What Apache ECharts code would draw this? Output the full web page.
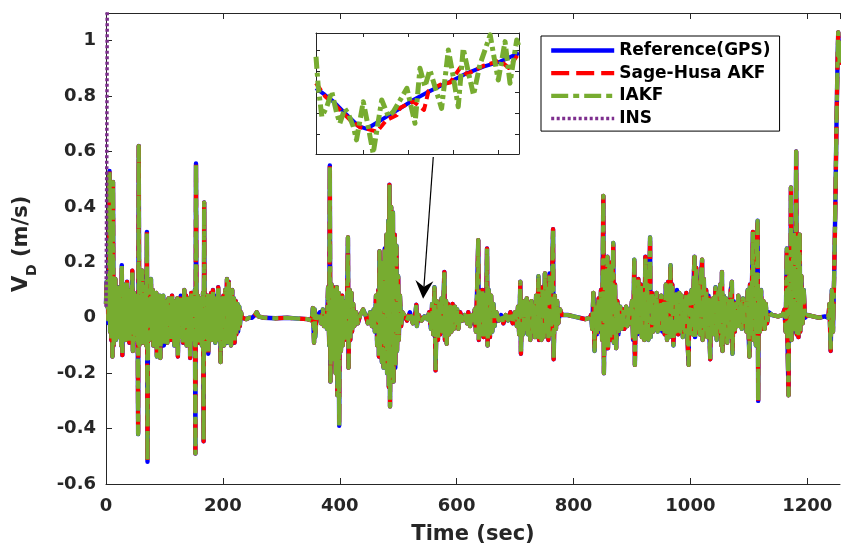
<!DOCTYPE html>
<html>
<head>
<meta charset="utf-8">
<title>V_D estimates</title>
<script src="https://cdn.jsdelivr.net/npm/echarts@6/dist/echarts.min.js"></script>
<style>
  html, body { margin: 0; padding: 0; background: #fff; }
  #chart { width: 841px; height: 546px; }
</style>
</head>
<body>
<div id="chart"></div>
<script>
// Down velocity V_D (m/s) vs time (s) as [t, v].
// GPS, Sage-Husa AKF and IAKF sit on top of each other at this scale,
// so the three traces share the same readings.
const gpsVd = [
  [0,0.05],[1,0.13],[2,0.04],[3,0.1],[4,-0.02],[5,0.08],[6,0.53],[7,-0.05],[8,0.3],[9,-0.08],
  [10,0.12],[11,-0.14],[12,0.49],[13,-0.1],[14,0.1],[15,-0.06],[16,0.14],[17,-0.08],[19,0.09],[20,-0.05],
  [22,0.11],[23,-0.07],[25,0.08],[26,-0.1],[27,0.19],[28,-0.135],[30,0.1],[31,-0.06],[33,0.12],[34,-0.08],
  [36,0.13],[37,-0.05],[39,0.08],[40,-0.09],[42,0.1],[43,-0.07],[45,0.17],[46,-0.12],[48,0.09],[49,-0.06],
  [51,0.07],[52,-0.08],[54,0.08],[55,-0.42],[56,0.62],[57,-0.1],[59,0.1],[60,-0.07],[62,0.17],[63,-0.09],
  [65,0.09],[66,-0.06],[68,0.12],[69,-0.1],[70,0.31],[71,-0.52],[72,0.08],[74,-0.08],[75,0.1],[77,0.14],
  [78,-0.07],[80,0.1],[81,-0.1],[83,0.07],[84,-0.06],[86,0.09],[87,-0.14],[89,0.07],[90,-0.1],[92,0.08],
  [93,-0.145],[95,0.06],[96,-0.07],[98,0.08],[99,-0.1],[101,0.05],[102,-0.06],[104,0.06],[105,-0.09],[107,0.07],
  [108,-0.05],[110,0.05],[111,-0.08],[113,0.08],[114,-0.06],[116,0.06],[117,-0.1],[119,0.05],[120,-0.06],[122,0.07],
  [123,-0.14],[125,0.06],[126,-0.07],[128,0.08],[129,-0.06],[131,0.05],[132,-0.09],[134,0.1],[135,-0.06],[137,0.08],
  [138,-0.1],[140,0.06],[141,-0.07],[143,0.07],[144,-0.145],[146,0.09],[147,-0.06],[149,0.06],[150,-0.08],[152,0.1],
  [153,-0.49],[154,0.557],[155,-0.07],[157,0.08],[158,-0.09],[160,0.06],[161,-0.07],[163,0.07],[164,-0.1],[166,0.09],
  [167,-0.446],[168,0.416],[169,-0.12],[171,0.06],[172,-0.07],[174,0.08],[175,-0.13],[177,0.07],[178,-0.06],[180,0.09],
  [181,-0.08],[183,0.1],[184,-0.05],[186,0.07],[187,-0.09],[189,0.08],[190,-0.06],[192,0.11],[193,-0.08],[195,0.07],
  [196,-0.16],[198,0.06],[199,-0.07],[201,0.08],[202,-0.1],[204,0.1],[205,-0.06],[207,0.14],[208,-0.09],[210,0.13],
  [211,-0.07],[213,0.09],[214,-0.1],[216,0.1],[217,-0.06],[219,0.07],[220,-0.09],[222,0.06],[223,-0.06],[225,0.05],
  [226,-0.05],[228,0.04],[229,-0.03],[231,0.02],[233,0.0],[236,0.005],[240,-0.005],[245,0.0],[250,0.0],[255,0.01],
  [258,0.02],[261,0.005],[270,0.0],[290,-0.002],[310,0.0],[330,-0.003],[345,-0.005],[352,-0.01],[354,0.035],[356,-0.09],
  [357,0.03],[358,-0.07],[360,0.0],[366,0.02],[368,-0.02],[371,0.03],[373,-0.03],[376,0.02],[378,-0.04],[380,0.11],
  [382,-0.1],[383,0.55],[384,-0.23],[386,0.12],[387,-0.15],[389,0.11],[390,-0.12],[392,0.1],[393,-0.2],[395,0.11],
  [396,-0.28],[398,0.09],[399,-0.39],[400,0.07],[402,-0.12],[404,0.08],[405,-0.1],[407,0.05],[408,-0.08],[410,0.06],
  [411,-0.07],[413,0.12],[414,0.29],[415,-0.18],[417,0.1],[418,-0.08],[420,0.09],[421,-0.05],[423,0.05],[425,-0.03],
  [428,0.02],[431,-0.02],[435,0.01],[440,0.03],[444,0.01],[448,-0.02],[452,0.02],[455,-0.03],[458,0.03],[460,-0.05],
  [462,0.08],[464,-0.1],[466,0.1],[467,-0.14],[468,0.24],[469,-0.12],[471,0.15],[472,-0.16],[474,0.2],[475,-0.18],
  [477,0.25],[478,-0.15],[480,0.3],[481,-0.2],[483,0.35],[484,-0.25],[485,0.48],[486,-0.32],[488,0.4],[489,-0.22],
  [491,0.38],[492,-0.23],[494,0.3],[495,-0.18],[497,0.26],[498,-0.12],[500,0.15],[501,-0.08],[503,0.08],[505,-0.03],
  [507,0.02],[510,0.01],[515,-0.01],[520,0.02],[525,-0.02],[529,0.01],[531,0.047],[532,-0.03],[535,0.01],[540,-0.01],
  [545,0.005],[550,-0.005],[553,0.02],[556,-0.04],[558,0.05],[560,-0.06],[562,0.11],[564,-0.19],[566,0.06],[568,-0.08],
  [570,0.05],[572,-0.06],[574,0.07],[576,-0.05],[578,0.1],[579,0.165],[580,-0.08],[582,0.06],[583,-0.094],[585,0.05],
  [587,-0.06],[589,0.04],[591,-0.05],[593,0.05],[595,-0.04],[597,0.04],[599,-0.03],[601,0.03],[603,-0.04],[606,0.02],
  [610,-0.01],[614,0.01],[618,-0.02],[620,0.02],[623,-0.03],[626,0.01],[629,-0.02],[631,0.03],[633,-0.05],[635,0.1],
  [637,0.28],[638,-0.08],[640,0.09],[642,-0.06],[644,0.1],[646,-0.07],[648,0.08],[650,-0.05],[652,0.25],[653,-0.1],
  [655,0.1],[657,-0.07],[659,0.08],[661,-0.05],[663,0.05],[665,-0.03],[668,0.02],[672,-0.01],[676,0.01],[680,-0.02],
  [684,0.01],[688,-0.01],[692,0.02],[696,-0.02],[700,0.02],[703,-0.03],[705,0.04],[707,-0.06],[709,0.13],[710,-0.13],
  [712,0.05],[714,-0.06],[716,0.06],[718,-0.04],[720,0.07],[722,-0.06],[724,0.05],[726,-0.08],[728,0.06],[730,-0.05],
  [732,0.04],[734,-0.07],[736,0.08],[738,-0.05],[740,0.15],[741,-0.08],[743,0.06],[745,-0.08],[747,0.11],[749,-0.07],
  [751,0.16],[753,-0.05],[755,0.1],[757,-0.08],[759,0.16],[761,-0.06],[763,0.12],[765,0.32],[766,-0.15],[768,0.08],
  [770,-0.04],[772,0.06],[774,-0.02],[777,0.03],[780,0.01],[790,0.01],[800,0.005],[810,0.0],[820,-0.005],[828,0.0],
  [830,0.01],[832,-0.04],[834,0.09],[836,-0.12],[838,0.05],[840,-0.06],[843,0.07],[845,-0.05],[847,0.1],[849,-0.08],
  [851,0.44],[852,-0.2],[854,0.15],[856,-0.06],[858,0.22],[859,-0.11],[861,0.18],[863,-0.08],[865,0.2],[866,-0.05],
  [868,0.27],[869,-0.09],[871,0.12],[873,-0.11],[875,0.06],[877,-0.06],[880,0.04],[882,-0.04],[885,0.03],[887,-0.04],
  [890,0.04],[892,-0.03],[895,0.03],[897,-0.02],[900,0.06],[902,-0.08],[904,0.21],[905,-0.17],[907,0.1],[909,-0.06],
  [911,0.14],[913,-0.05],[915,0.12],[917,-0.07],[919,0.1],[921,-0.08],[923,0.22],[924,-0.06],[926,0.12],[928,-0.08],
  [930,0.15],[931,0.29],[932,-0.07],[934,0.09],[936,-0.05],[938,0.07],[940,-0.04],[942,0.09],[944,-0.05],[946,0.06],
  [948,-0.04],[950,0.08],[952,-0.05],[954,0.05],[956,-0.06],[958,0.12],[960,-0.08],[962,0.13],[964,-0.07],[966,0.19],
  [967,-0.05],[969,0.12],[971,-0.1],[973,0.08],[975,-0.05],[977,0.1],[979,-0.06],[981,0.09],[983,-0.05],[985,0.08],
  [987,-0.07],[989,0.06],[991,-0.05],[993,0.09],[995,-0.08],[997,-0.17],[998,0.08],[1000,-0.04],[1002,0.1],[1004,-0.06],
  [1006,0.16],[1007,0.22],[1008,-0.07],[1010,0.18],[1012,-0.05],[1014,0.12],[1016,-0.06],[1018,0.15],[1020,0.21],[1021,-0.08],
  [1023,0.14],[1025,-0.05],[1027,0.1],[1029,-0.07],[1031,0.08],[1033,-0.09],[1034,-0.15],[1035,0.06],[1037,-0.05],[1039,0.07],
  [1041,-0.06],[1043,0.11],[1045,-0.08],[1047,0.09],[1049,-0.05],[1051,0.12],[1053,-0.1],[1054,0.165],[1055,-0.12],[1057,0.08],
  [1059,-0.06],[1061,0.07],[1063,-0.09],[1065,0.06],[1067,-0.07],[1069,0.1],[1071,0.13],[1072,-0.13],[1074,0.06],[1076,-0.05],
  [1078,0.05],[1080,-0.03],[1082,0.08],[1084,-0.03],[1086,0.06],[1088,-0.04],[1090,0.07],[1092,-0.03],[1094,0.05],[1096,-0.05],
  [1098,0.1],[1100,-0.08],[1101,-0.14],[1102,0.12],[1104,-0.05],[1106,0.2],[1107,0.31],[1108,-0.08],[1110,0.15],[1112,-0.1],
  [1114,0.25],[1115,0.35],[1116,-0.3],[1117,0.1],[1119,-0.05],[1121,0.1],[1123,-0.04],[1125,0.06],[1127,-0.04],[1129,0.05],
  [1131,-0.02],[1134,0.02],[1140,0.01],[1150,0.005],[1158,0.01],[1161,0.03],[1163,-0.05],[1165,0.25],[1166,-0.07],[1168,-0.28],
  [1169,0.2],[1171,-0.05],[1172,0.47],[1173,-0.08],[1175,0.15],[1177,0.31],[1178,-0.05],[1180,0.2],[1181,0.6],[1182,-0.06],
  [1184,0.25],[1185,-0.07],[1187,0.3],[1188,-0.05],[1190,0.15],[1192,-0.02],[1194,0.1],[1196,0.0],[1200,0.01],[1210,0.005],
  [1220,0.0],[1230,0.005],[1236,0.0],[1238,0.05],[1240,-0.12],[1242,0.1],[1244,-0.05],[1246,0.15],[1248,0.4],[1250,0.7],
  [1252,0.95],[1253,1.03],[1255,0.92],[1256,1.0]
];
const akfVd = gpsVd;
const iakfVd = gpsVd;
// INS diverges straight away and leaves the plot at the left edge
const insVd = [[0,0.04],[0.6,0.2],[1.2,0.5],[1.8,0.9],[2.4,1.4],[4,2.5]];

// inset (zoomed window, unlabelled axes, arbitrary units)
const insetGps = [[0,3.13],[0.2,2.81],[0.39,2.49],[0.57,2.1],[0.76,1.7],[0.94,1.33],[1.13,1.2],[1.35,1.49],
  [1.57,1.78],[1.87,2.17],[2.16,2.57],[2.46,2.92],[2.76,3.24],[2.98,3.44],[3.35,3.84],[3.72,4.16],[4.09,4.4],[4.51,4.8]];
const insetAkf = [[0,3.37],[0.2,2.75],[0.39,2.4],[0.53,2.1],[0.76,1.62],[0.98,1.27],[1.13,1.2],[1.35,1.06],[1.57,1.62],
  [1.8,1.86],[1.87,2.2],[2.16,2.5],[2.4,2.1],[2.5,3.0],[2.76,3.3],[2.98,3.4],[3.2,4.1],[3.35,3.8],[3.72,4.2],[4.09,4.45],
  [4.28,4.1],[4.51,4.8]];
const insetIakf = [[0,4.63],[0.05,3.2],[0.13,1.78],[0.24,2.25],[0.35,2.97],[0.46,1.94],[0.53,1.46],[0.64,2.17],[0.72,1.9],
  [0.83,1.3],[0.9,0.67],[1.05,2.49],[1.16,1.3],[1.27,0.03],[1.46,2.57],[1.61,1.78],[1.72,2.02],[1.87,2.57],[2.02,3.13],
  [2.2,1.46],[2.31,4.08],[2.42,3.21],[2.53,4.0],[2.79,2.17],[2.94,4.95],[3.05,3.68],[3.16,2.25],[3.27,5.03],[3.39,3.84],
  [3.5,2.81],[3.64,4.24],[3.87,5.67],[3.94,4.79],[4.05,3.52],[4.2,5.35],[4.31,3.37],[4.46,5.43],[4.51,5.11]];
const insetXTicks = [1.05, 2.05, 3.05, 4.05];
const insetYTicks = [0.95, 1.95, 2.95, 3.95, 4.95];

// arrow from the inset down to the zoomed spot, [t, v]
const arrowTail = [560, 0.58];
const arrowTip = [542.6, 0.069];

const seriesNames = ['Reference(GPS)', 'Sage-Husa AKF', 'IAKF', 'INS'];

const axisColor = '#262626';
const font = 'DejaVu Sans';

const chart = echarts.init(document.getElementById('chart'), null, { renderer: 'canvas' });

function boxAxis(extra) {
  return Object.assign({
    type: 'value',
    axisLine: { show: true, onZero: false, lineStyle: { color: axisColor, width: 1 } },
    axisTick: { show: true, inside: true, length: 6, lineStyle: { color: axisColor } },
    splitLine: { show: false }
  }, extra);
}

function lineSeries(name, data, color, width, dash, xi, yi, z) {
  return {
    name: name,
    type: 'line',
    xAxisIndex: xi,
    yAxisIndex: yi,
    data: data,
    symbol: 'none',
    showSymbol: false,
    z: z,
    lineStyle: { color: color, width: width, type: dash, join: 'round', cap: 'butt' },
    itemStyle: { color: color },
    emphasis: { disabled: true },
    animation: false
  };
}

const tickText = { fontFamily: font, fontWeight: 'bold', fontSize: 18, color: axisColor };

chart.setOption({
  animation: false,
  backgroundColor: '#fff',
  grid: [
    { left: 106, top: 13, right: 1, bottom: 62, containLabel: false, outerBoundsMode: 'none' },
    { left: 316, top: 33, width: 203, height: 121, show: true, backgroundColor: '#fff', borderWidth: 0, z: 5,
      containLabel: false, outerBoundsMode: 'none' }
  ],
  xAxis: [
    boxAxis({
      gridIndex: 0, position: 'bottom', min: 0, max: 1256, interval: 200,
      name: 'Time (sec)', nameLocation: 'middle', nameGap: 40,
      nameTextStyle: { fontFamily: font, fontWeight: 'bold', fontSize: 21, color: axisColor },
      axisLabel: Object.assign({ margin: 13, showMaxLabel: false, formatter: v => String(v) }, tickText)
    }),
    boxAxis({ gridIndex: 0, position: 'top', min: 0, max: 1256, interval: 200, axisLabel: { show: false } }),
    boxAxis({ gridIndex: 1, position: 'bottom', min: 0, max: 4.51, z: 6,
      axisTick: { show: true, inside: true, length: 4, customValues: insetXTicks, lineStyle: { color: axisColor } },
      axisLabel: { show: false } }),
    boxAxis({ gridIndex: 1, position: 'top', min: 0, max: 4.51, z: 6,
      axisTick: { show: true, inside: true, length: 4, customValues: insetXTicks, lineStyle: { color: axisColor } },
      axisLabel: { show: false } })
  ],
  yAxis: [
    boxAxis({
      gridIndex: 0, position: 'left', min: -0.6, max: 1.1, interval: 0.2,
      axisLabel: Object.assign({ margin: 10, showMaxLabel: false }, tickText)
    }),
    boxAxis({ gridIndex: 1, position: 'left', min: 0, max: 5.76, z: 6,
      axisTick: { show: true, inside: true, length: 4, customValues: insetYTicks, lineStyle: { color: axisColor } },
      axisLabel: { show: false } }),
    boxAxis({ gridIndex: 1, position: 'right', min: 0, max: 5.76, z: 6,
      axisTick: { show: true, inside: true, length: 4, customValues: insetYTicks, lineStyle: { color: axisColor } },
      axisLabel: { show: false } })
  ],
  legend: {
    orient: 'vertical',
    left: 541,
    top: 36,
    padding: [6, 9, 4, 8],
    itemGap: 5.7,
    itemWidth: 63,
    itemHeight: 17,
    backgroundColor: '#fff',
    borderColor: '#000',
    borderWidth: 1,
    borderRadius: 0,
    selectedMode: false,
    // line sample only, no marker in the middle
    itemStyle: { color: 'rgba(0,0,0,0)', borderWidth: 0, opacity: 0 },
    lineStyle: { width: 'inherit', type: 'inherit' },
    textStyle: { fontFamily: font, fontWeight: 'bold', fontSize: 17, color: '#000' },
    data: seriesNames
  },
  series: [
    lineSeries(seriesNames[0], gpsVd, '#0000ff', 4.4, 'solid', 0, 0, 2),
    lineSeries(seriesNames[1], akfVd, '#ff0000', 4.2, [18, 7], 0, 0, 2),
    lineSeries(seriesNames[2], iakfVd, '#77ac30', 4.2, [17, 5, 6, 5], 0, 0, 2),
    lineSeries(seriesNames[3], insVd, '#7e2f8e', 3.5, [3, 2.5], 0, 0, 2),
    lineSeries('inset GPS', insetGps, '#0000ff', 4, 'solid', 2, 1, 7),
    lineSeries('inset AKF', insetAkf, '#ff0000', 4, [9, 5], 2, 1, 7),
    lineSeries('inset IAKF', insetIakf, '#77ac30', 5, [12, 4, 4, 4], 2, 1, 7)
  ],
  graphic: [
    {
      id: 'ylabel',
      type: 'group',
      x: 22,
      y: 292,
      rotation: Math.PI / 2,
      children: [
        { type: 'text', x: 0, y: 0, style: { text: 'V', fontFamily: font, fontWeight: 'bold', fontSize: 21, fill: axisColor, align: 'left', verticalAlign: 'middle' } },
        { type: 'text', x: 16, y: 10, style: { text: 'D', fontFamily: font, fontWeight: 'bold', fontSize: 14, fill: axisColor, align: 'left', verticalAlign: 'middle' } },
        { type: 'text', x: 35, y: 0, style: { text: '(m/s)', fontFamily: font, fontWeight: 'bold', fontSize: 21, fill: axisColor, align: 'left', verticalAlign: 'middle' } }
      ]
    }
  ]
});

// arrow, placed through the main axes
const p0 = chart.convertToPixel({ gridIndex: 0 }, arrowTail);
const p1 = chart.convertToPixel({ gridIndex: 0 }, arrowTip);
const dx = p1[0] - p0[0], dy = p1[1] - p0[1];
const len = Math.sqrt(dx * dx + dy * dy);
const ux = dx / len, uy = dy / len;
const nx = -uy, ny = ux;
const headLen = 18, headHalf = 9, notch = 12;
chart.setOption({
  graphic: [
    {
      id: 'arrowLine', type: 'line', z: 100,
      shape: { x1: p0[0], y1: p0[1], x2: p1[0] - ux * notch, y2: p1[1] - uy * notch },
      style: { stroke: '#000', lineWidth: 1.2 }
    },
    {
      id: 'arrowHead', type: 'polygon', z: 100,
      shape: { points: [
        [p1[0], p1[1]],
        [p1[0] - ux * headLen + nx * headHalf, p1[1] - uy * headLen + ny * headHalf],
        [p1[0] - ux * notch, p1[1] - uy * notch],
        [p1[0] - ux * headLen - nx * headHalf, p1[1] - uy * headLen - ny * headHalf]
      ] },
      style: { fill: '#000' }
    }
  ]
});
</script>
</body>
</html>
